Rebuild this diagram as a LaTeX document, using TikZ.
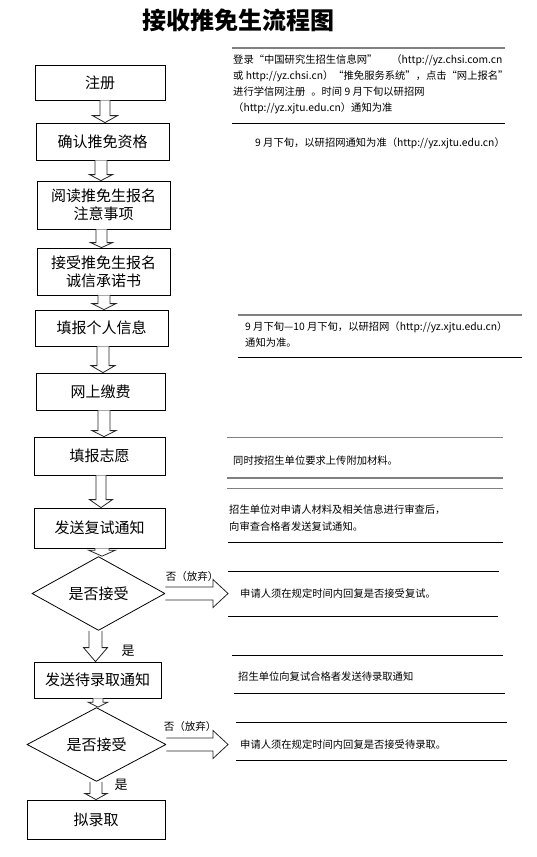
\documentclass[tikz,border=0pt]{standalone}
\usepackage{fontspec}
\setmainfont{Noto Sans CJK SC}
\usetikzlibrary{shapes.geometric,calc}
\tikzset{
  box/.style={draw=black, line width=0.8pt, inner sep=0pt, align=center, font=\fontsize{15}{18}\selectfont},
  dia/.style={draw=black, line width=0.8pt, shape=diamond, inner sep=0pt, font=\fontsize{15}{18}\selectfont},
  hollow/.style={draw=black!85, line width=0.8pt, fill=white, line join=miter},
  rline/.style={draw=black, line width=0.9pt},
  gline/.style={draw=black!50, line width=1.6pt},
  rtext/.style={anchor=west, inner sep=0pt, font=\fontsize{10.3}{12}\selectfont},
  lab/.style={inner sep=0pt, font=\fontsize{10.5}{12}\selectfont},
  yes/.style={inner sep=0pt, font=\fontsize{13}{14}\selectfont},
}
% hollow down arrow: from node, to node, x centre, shaft half width, head half width, head length
\newcommand\DownArr[6]{%
  \draw[hollow] let \p1=(#1.south), \p2=(#2.north) in
    (#3pt-#4pt,\y1) -- (#3pt-#4pt,\y2+#6pt) -- (#3pt-#5pt,\y2+#6pt) -- (#3pt,\y2)
    -- (#3pt+#5pt,\y2+#6pt) -- (#3pt+#4pt,\y2+#6pt) -- (#3pt+#4pt,\y1);}
% hollow right arrow: from node to coordinate
\newcommand\RightArr[2]{%
  \draw[hollow] let \p1=(#1.east), \p2=(#2) in
    (\x1,\y1+6.5pt) -- (\x2-15pt,\y1+6.5pt) -- (\x2-15pt,\y1+14pt) -- (\x2,\y1)
    -- (\x2-15pt,\y1-14pt) -- (\x2-15pt,\y1-6.5pt) -- (\x1,\y1-6.5pt);}
\begin{document}
\begin{tikzpicture}[x=1pt,y=-1pt]
\useasboundingbox[fill=white] (0,0) rectangle (536,857);

% title
\node[inner sep=0pt, font=\fontsize{24}{26}\selectfont\bfseries] (title) at (238,20) {接收推免生流程图};

% flow boxes
\node[box, minimum width=130, minimum height=35] (b1) at (100,82.5) {注册};
\node[box, minimum width=133, minimum height=37] (b2) at (102.5,141.5) {确认推免资格};
\node[box, minimum width=133, minimum height=48] (b3) at (103.5,205) {阅读推免生报名\\注意事项};
\node[box, minimum width=133, minimum height=47] (b4) at (103.5,271.5) {接受推免生报名\\诚信承诺书};
\node[box, minimum width=133, minimum height=36] (b5) at (101.5,328) {填报个人信息};
\node[box, minimum width=129, minimum height=37] (b6) at (100.5,391.5) {网上缴费};
\node[box, minimum width=131, minimum height=38] (b7) at (99.5,456) {填报志愿};
\node[box, minimum width=131, minimum height=40] (b8) at (99.5,528) {发送复试通知};
\node[dia, minimum width=133, minimum height=59] (d1) at (98.5,593.5) {是否接受};
\node[box, minimum width=127, minimum height=36] (b9) at (97.5,680) {发送待录取通知};
\node[dia, minimum width=139, minimum height=59] (d2) at (96.5,744.5) {是否接受};
\node[box, minimum width=138, minimum height=39] (b10) at (96,819.5) {拟录取};

% down arrows
\DownArr{b1}{b2}{105}{5}{12.5}{7}
\DownArr{b2}{b3}{101}{6}{11.5}{6}
\DownArr{b3}{b4}{101.5}{5.5}{11}{5}
\DownArr{b4}{b5}{104}{6}{12}{6}
\DownArr{b5}{b6}{103}{6}{12}{7}
\DownArr{b6}{b7}{104}{6}{12}{6}
\DownArr{b7}{b8}{101}{5}{11.5}{8}
\DownArr{b8}{d1}{102}{7}{13.5}{6}
\DownArr{d1}{b9}{95.5}{6.5}{12}{14}
\DownArr{b9}{d2}{98}{5}{10}{5}
\DownArr{d2}{b10}{96}{6}{11}{6}

% right arrows
\coordinate (r1) at (228,593.5);
\coordinate (r2) at (228,744.5);
\RightArr{d1}{r1}
\RightArr{d2}{r2}
\node[lab] (n1) at (192,577) {否（放弃）};
\node[lab] (n2) at (190,727) {否（放弃）};
\node[yes] (y1) at (128,651) {是};
\node[yes] (y2) at (121,785) {是};

% right-hand notes: rules
\draw[gline] (232,48) -- (505,48);
\draw[rline] (232,123) -- (505,123);
\draw[gline] (238,315) -- (522,315);
\draw[rline] (238,357) -- (522,357);
\draw[gline, line width=1pt] (227,437) -- (503,437);
\draw[gline] (227,478) -- (503,478);
\draw[gline, line width=1pt] (227,488) -- (503,488);
\draw[rline] (228,542) -- (503,542);
\draw[rline] (228,571) -- (499,571);
\draw[rline] (228,616) -- (498,616);
\draw[rline] (232,655) -- (503,655);
\draw[rline] (234,693) -- (505,693);
\draw[rline] (236,722) -- (507,722);
\draw[rline] (236,760) -- (507,760);

% right-hand notes: texts
\node[rtext] (t1a) at (233,60) {登录“中国研究生招生信息网”\hspace{14pt}（http://yz.chsi.com.cn};
\node[rtext] (t1b) at (233,76) {或 http://yz.chsi.cn）“推免服务系统”，点击“网上报名”};
\node[rtext] (t1c) at (233,92) {进行学信网注册\hspace{6pt}。时间 9 月下旬以研招网};
\node[rtext] (t1d) at (233,108) {（http://yz.xjtu.edu.cn）通知为准};
\node[rtext] (t2) at (255,143) {9 月下旬，以研招网通知为准（http://yz.xjtu.edu.cn）};
\node[rtext] (t3a) at (245,327) {9 月下旬—10 月下旬，以研招网（http://yz.xjtu.edu.cn）};
\node[rtext] (t3b) at (245,343) {通知为准。};
\node[rtext] (t4) at (233,461) {同时按招生单位要求上传附加材料。};
\node[rtext] (t5a) at (229,510) {招生单位对申请人材料及相关信息进行审查后，};
\node[rtext] (t5b) at (229,527) {向审查合格者发送复试通知。};
\node[rtext] (t6) at (240,594) {申请人须在规定时间内回复是否接受复试。};
\node[rtext] (t7) at (238,677) {招生单位向复试合格者发送待录取通知};
\node[rtext] (t8) at (240,745) {申请人须在规定时间内回复是否接受待录取。};
\end{tikzpicture}
\end{document}
